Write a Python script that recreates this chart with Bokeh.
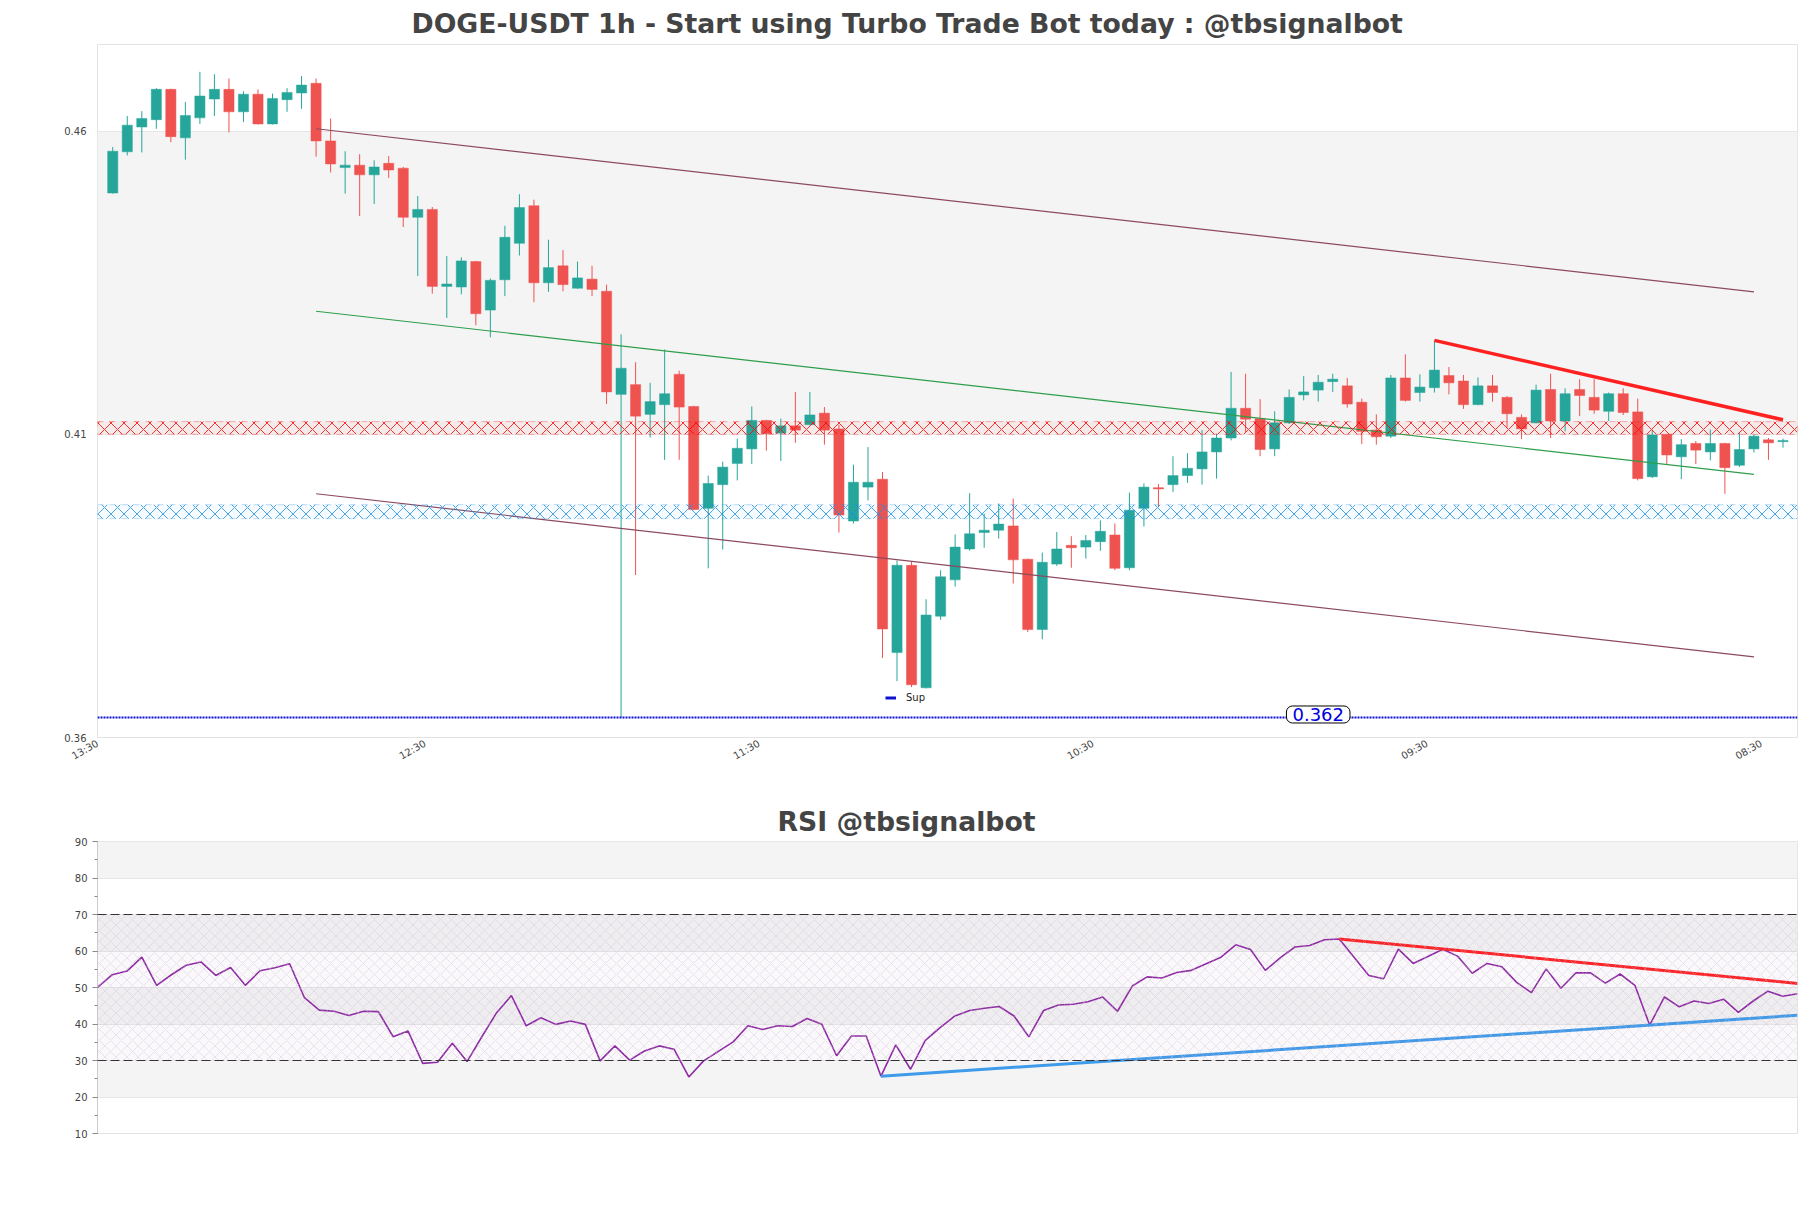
import numpy as np
from bokeh.plotting import figure
from bokeh.layouts import column
from bokeh.models import (ColumnDataSource, Range1d, FixedTicker, SingleIntervalTicker,
                          BoxAnnotation, Span, Label, Legend, LegendItem, LinearAxis)
from bokeh.embed import file_html
from bokeh.resources import INLINE

FONT = "DejaVu Sans"
TITLE = "DOGE-USDT 1h - Start using Turbo Trade Bot today : @tbsignalbot"
RSI_TITLE = "RSI @tbsignalbot"

opens = [0.4498, 0.4566, 0.4607, 0.4619, 0.4669, 0.4589, 0.4622, 0.4653, 0.4669, 0.4632,
         0.4661, 0.4612, 0.4652, 0.4663, 0.4679, 0.4584, 0.4540, 0.4544, 0.4528, 0.4547,
         0.4539, 0.4458, 0.4471, 0.4344, 0.4343, 0.4385, 0.4305, 0.4355, 0.4415, 0.4477,
         0.4350, 0.4378, 0.4341, 0.4356, 0.4336, 0.4166, 0.4182, 0.4133, 0.4149, 0.4199,
         0.4146, 0.3978, 0.4017, 0.4052, 0.4076, 0.4123, 0.4102, 0.4114, 0.4116, 0.4135,
         0.4109, 0.3957, 0.4013, 0.4026, 0.3740, 0.3884, 0.3682, 0.3800, 0.3860, 0.3911,
         0.3938, 0.3942, 0.3949, 0.3894, 0.3778, 0.3886, 0.3917, 0.3914, 0.3923, 0.3934,
         0.3880, 0.3978, 0.4012, 0.4017, 0.4032, 0.4043, 0.4071, 0.4094, 0.4143, 0.4126,
         0.4076, 0.4119, 0.4165, 0.4173, 0.4187, 0.4180, 0.4153, 0.4107, 0.4097, 0.4193,
         0.4169, 0.4177, 0.4197, 0.4188, 0.4149, 0.4180, 0.4161, 0.4128, 0.4119, 0.4174,
         0.4122, 0.4174, 0.4161, 0.4138, 0.4167, 0.4137, 0.4030, 0.4100, 0.4063, 0.4085,
         0.4071, 0.4085, 0.4049, 0.4076, 0.4091, 0.4088]
highs = [0.4574, 0.4625, 0.4633, 0.4671, 0.4670, 0.4648, 0.4698, 0.4694, 0.4687, 0.4666,
         0.4669, 0.4662, 0.4671, 0.4691, 0.4687, 0.4621, 0.4567, 0.4562, 0.4552, 0.4559,
         0.4541, 0.4493, 0.4475, 0.4394, 0.4392, 0.4386, 0.4357, 0.4444, 0.4496, 0.4487,
         0.4421, 0.4404, 0.4385, 0.4378, 0.4347, 0.4265, 0.4219, 0.4185, 0.4240, 0.4205,
         0.4147, 0.4032, 0.4055, 0.4093, 0.4146, 0.4124, 0.4126, 0.4170, 0.4170, 0.4145,
         0.4116, 0.4050, 0.4079, 0.4038, 0.3892, 0.3891, 0.3828, 0.3876, 0.3935, 0.4003,
         0.3969, 0.3986, 0.3994, 0.3895, 0.3905, 0.3939, 0.3932, 0.3934, 0.3958, 0.3953,
         0.4004, 0.4019, 0.4018, 0.4064, 0.4069, 0.4107, 0.4101, 0.4203, 0.4200, 0.4158,
         0.4138, 0.4174, 0.4196, 0.4198, 0.4200, 0.4193, 0.4159, 0.4133, 0.4198, 0.4232,
         0.4199, 0.4255, 0.4211, 0.4198, 0.4194, 0.4198, 0.4163, 0.4133, 0.4182, 0.4200,
         0.4176, 0.4191, 0.4191, 0.4169, 0.4176, 0.4159, 0.4108, 0.4101, 0.4092, 0.4089,
         0.4108, 0.4086, 0.4103, 0.4100, 0.4094, 0.4093]
lows = [0.4497, 0.4560, 0.4565, 0.4604, 0.4582, 0.4553, 0.4612, 0.4625, 0.4598, 0.4615,
        0.4611, 0.4611, 0.4632, 0.4637, 0.4558, 0.4532, 0.4497, 0.4460, 0.4480, 0.4523,
        0.4442, 0.4361, 0.4332, 0.4292, 0.4331, 0.4280, 0.4260, 0.4328, 0.4395, 0.4318,
        0.4335, 0.4336, 0.4340, 0.4328, 0.4150, 0.3633, 0.3868, 0.4095, 0.4058, 0.4058,
        0.3975, 0.3879, 0.3910, 0.4024, 0.4051, 0.4073, 0.4056, 0.4086, 0.4115, 0.4083,
        0.3938, 0.3953, 0.3991, 0.3731, 0.3693, 0.3683, 0.3681, 0.3794, 0.3849, 0.3908,
        0.3913, 0.3928, 0.3854, 0.3774, 0.3762, 0.3883, 0.3880, 0.3895, 0.3908, 0.3876,
        0.3876, 0.3948, 0.3980, 0.4005, 0.4020, 0.4017, 0.4027, 0.4090, 0.4104, 0.4064,
        0.4064, 0.4117, 0.4156, 0.4154, 0.4170, 0.4144, 0.4084, 0.4083, 0.4094, 0.4154,
        0.4154, 0.4169, 0.4166, 0.4142, 0.4148, 0.4154, 0.4111, 0.4092, 0.4118, 0.4094,
        0.4105, 0.4130, 0.4134, 0.4122, 0.4132, 0.4024, 0.4028, 0.4050, 0.4026, 0.4051,
        0.4057, 0.4002, 0.4046, 0.4070, 0.4058, 0.4078]
closes = [0.4567, 0.4610, 0.4621, 0.4669, 0.4591, 0.4626, 0.4658, 0.4669, 0.4632, 0.4661,
          0.4612, 0.4654, 0.4664, 0.4676, 0.4584, 0.4546, 0.4544, 0.4528, 0.4541, 0.4536,
          0.4458, 0.4471, 0.4344, 0.4348, 0.4386, 0.4299, 0.4354, 0.4425, 0.4474, 0.4350,
          0.4375, 0.4347, 0.4358, 0.4339, 0.4170, 0.4209, 0.4130, 0.4154, 0.4167, 0.4145,
          0.3976, 0.4019, 0.4046, 0.4077, 0.4123, 0.4101, 0.4114, 0.4107, 0.4132, 0.4107,
          0.3967, 0.4021, 0.4021, 0.3779, 0.3884, 0.3687, 0.3802, 0.3865, 0.3914, 0.3936,
          0.3942, 0.3952, 0.3893, 0.3778, 0.3889, 0.3911, 0.3913, 0.3925, 0.3940, 0.3879,
          0.3975, 0.4013, 0.4010, 0.4032, 0.4044, 0.4071, 0.4094, 0.4143, 0.4125, 0.4075,
          0.4119, 0.4161, 0.4170, 0.4186, 0.4191, 0.4150, 0.4105, 0.4096, 0.4193, 0.4156,
          0.4178, 0.4206, 0.4185, 0.4149, 0.4180, 0.4169, 0.4134, 0.4109, 0.4173, 0.4122,
          0.4167, 0.4164, 0.4140, 0.4167, 0.4136, 0.4027, 0.4099, 0.4066, 0.4083, 0.4074,
          0.4085, 0.4045, 0.4075, 0.4097, 0.4086, 0.4090]

rsi = [50.0, 53.5, 54.5, 58.3, 50.6, 53.5, 56.1, 57.0, 53.3, 55.5,
       50.6, 54.6, 55.4, 56.5, 47.2, 43.8, 43.5, 42.3, 43.5, 43.4,
       36.5, 38.1, 29.2, 29.5, 34.7, 29.7, 36.5, 43.1, 47.8, 39.5,
       41.7, 39.9, 40.8, 39.9, 29.9, 34.0, 30.1, 32.6, 34.0, 33.1,
       25.5, 29.9, 32.5, 35.1, 39.5, 38.5, 39.5, 39.3, 41.5, 39.9,
       31.3, 36.7, 36.7, 25.7, 34.3, 27.6, 35.5, 39.0, 42.2, 43.7,
       44.3, 44.8, 42.2, 36.5, 43.7, 45.2, 45.4, 46.1, 47.4, 43.5,
       50.4, 52.9, 52.6, 54.1, 54.7, 56.5, 58.3, 61.7, 60.4, 54.7,
       58.1, 61.1, 61.5, 63.1, 63.3, 58.3, 53.3, 52.4, 60.5, 56.6,
       58.5, 60.5, 58.6, 53.9, 56.6, 55.7, 51.4, 48.6, 55.1, 49.8,
       54.0, 54.0, 51.2, 53.7, 50.6, 39.7, 47.4, 44.7, 46.3, 45.6,
       46.8, 43.2, 46.3, 49.0, 47.6, 48.3]

tick_pos = [-1, 22, 45, 68, 91, 114]
tick_labels = ["13:30", "12:30", "11:30", "10:30", "09:30", "08:30"]
price_ticks = [0.36, 0.41, 0.46]

channel_x = [14, 113]
channel_upper = [0.4604, 0.4335]
channel_mid = [0.4303, 0.4034]
channel_lower = [0.4002, 0.3733]
trend_x = [91, 115]
trend_y = [0.4255, 0.4124]
resistance_zone = [0.4100, 0.4121]
support_zone = [0.3961, 0.3984]
support_level = 0.3633
support_text = "0.362"
support_label_x = 83

rsi_red_x = [84, 115]
rsi_red_y = [63.3, 51.1]
rsi_blue_x = [53, 115]
rsi_blue_y = [25.7, 42.4]
rsi_levels = [30, 70]

INC = "#26a69a"
DEC = "#ef5350"

X_START, X_END = -1.05, 116.0
LABEL_SHIFT = 0.5  # tick labels sit half a candle before their bar in the original

idx = list(range(len(opens)))
colors = [INC if c >= o else DEC for o, c in zip(opens, closes)]
src = ColumnDataSource(dict(x=idx, open=opens, high=highs, low=lows, close=closes,
                            top=[max(o, c) for o, c in zip(opens, closes)],
                            bottom=[min(o, c) for o, c in zip(opens, closes)],
                            color=colors))

p1 = figure(width=1805, height=798, x_range=Range1d(X_START, X_END),
            y_range=Range1d(0.36, 0.4743), output_backend="svg", toolbar_location=None,
            x_axis_location=None,
            min_border_left=97, min_border_right=8, min_border_top=43, min_border_bottom=61,
            title=TITLE)
p1.title.text_font = FONT
p1.title.text_font_size = "26.7px"
p1.title.text_font_style = "bold"
p1.title.text_color = "#444444"
p1.title.align = "left"
p1.title.offset = 314
p1.title.standoff = 10.5
p1.outline_line_color = "#e3e3e3"
p1.background_fill_color = "white"

pt = FixedTicker(ticks=price_ticks)
p1.yaxis.ticker = pt
p1.ygrid.ticker = pt
p1.ygrid.grid_line_color = "#e6e6e6"
p1.ygrid.band_fill_color = "#f4f4f4"
p1.ygrid.band_fill_alpha = 1.0
p1.xgrid.grid_line_color = None
yax = p1.yaxis[0]
yax.axis_line_color = None
yax.major_tick_line_color = None
yax.minor_tick_line_color = None
yax.major_label_text_font = FONT
yax.major_label_text_font_size = "10px"
yax.major_label_text_color = "#444444"

# time axis
lab_start = X_START + LABEL_SHIFT
p1.extra_x_ranges = {"time": Range1d(lab_start, X_END + LABEL_SHIFT)}
lab_ticks = [max(t, lab_start) for t in tick_pos]
xax = LinearAxis(x_range_name="time", ticker=FixedTicker(ticks=lab_ticks),
                 major_label_overrides={t: l for t, l in zip(lab_ticks, tick_labels)},
                 major_label_orientation=0.52, axis_line_color=None,
                 major_tick_line_color=None, minor_tick_line_color=None,
                 major_tick_out=0, major_tick_in=0, major_label_standoff=5,
                 major_label_text_font=FONT, major_label_text_font_size="10px",
                 major_label_text_color="#444444")
p1.add_layout(xax, "below")

p1.segment(x0="x", y0="high", x1="x", y1="low", color="color", line_width=1, source=src)
p1.vbar(x="x", width=0.7, top="top", bottom="bottom", fill_color="color",
        line_color="color", line_width=0.5, source=src)

p1.line(channel_x, channel_upper, line_color="#8c4a5e", line_width=1.2)
p1.line(channel_x, channel_lower, line_color="#8c4a5e", line_width=1.2)
p1.line(channel_x, channel_mid, line_color="#2e9e4a", line_width=1.2)
p1.line(trend_x, trend_y, line_color="#ff2020", line_width=3.5)

p1.add_layout(BoxAnnotation(bottom=resistance_zone[0], top=resistance_zone[1],
                            fill_color="red", fill_alpha=0.04,
                            hatch_pattern="diagonal_cross", hatch_color="red",
                            hatch_alpha=0.8, hatch_scale=13, hatch_weight=1,
                            line_color="red", line_dash="dashed", line_width=1))
p1.add_layout(BoxAnnotation(bottom=support_zone[0], top=support_zone[1],
                            fill_color="#1e90ff", fill_alpha=0.04,
                            hatch_pattern="diagonal_cross", hatch_color="#1e8fe0",
                            hatch_alpha=0.8, hatch_scale=13, hatch_weight=1,
                            line_color="#1e8fe0", line_dash="dashed", line_width=1))

p1.add_layout(Span(location=support_level, dimension="width", line_color="#1010d0",
                   line_width=2, line_dash="2 1"))
sup_r = p1.line([support_label_x], [support_level], line_color="#1010d0", line_width=3)
legend = Legend(items=[LegendItem(label="Sup", renderers=[sup_r])], location=(778, 24),
                glyph_width=11, glyph_height=11, label_height=11, label_standoff=10,
                label_text_font=FONT, label_text_font_size="10px", label_text_color="#222222",
                background_fill_alpha=0, border_line_alpha=0, padding=10)
p1.add_layout(legend)
p1.add_layout(Label(x=support_label_x, y=support_level, y_offset=3, text=support_text,
                    text_font=FONT, text_font_size="18px", text_color="#0000dd",
                    text_align="center", text_baseline="middle",
                    background_fill_color="white", border_line_color="black",
                    border_line_width=1, border_radius=6, padding=(6, 2)))

# RSI figure
p2 = figure(width=1805, height=360, x_range=Range1d(0, len(rsi) - 1), y_range=Range1d(10, 90),
            output_backend="svg", toolbar_location=None,
            min_border_left=97, min_border_right=8, min_border_top=42, min_border_bottom=25,
            title=RSI_TITLE)
p2.title.text_font = FONT
p2.title.text_font_size = "26.7px"
p2.title.text_font_style = "bold"
p2.title.text_color = "#444444"
p2.title.align = "left"
p2.title.offset = 680
p2.title.standoff = 9.5
p2.outline_line_color = "#e3e3e3"
p2.xaxis.visible = False
p2.xgrid.grid_line_color = None
rt = SingleIntervalTicker(interval=10, num_minor_ticks=2)
p2.yaxis.ticker = rt
p2.ygrid.ticker = rt
p2.ygrid.grid_line_color = "#e6e6e6"
p2.ygrid.band_fill_color = "#f4f4f4"
p2.ygrid.band_fill_alpha = 1.0
ya = p2.yaxis[0]
ya.axis_line_color = "#cccccc"
ya.major_tick_line_color = "#888888"
ya.minor_tick_line_color = "#888888"
ya.major_tick_out = 5
ya.major_tick_in = 0
ya.minor_tick_out = 3
ya.minor_tick_in = 0
ya.major_label_text_font = FONT
ya.major_label_text_font_size = "10px"
ya.major_label_text_color = "#444444"

p2.add_layout(BoxAnnotation(bottom=rsi_levels[0], top=rsi_levels[1], fill_color="#b07cc6",
                            fill_alpha=0.05, hatch_pattern="diagonal_cross",
                            hatch_color="#c8c0cc", hatch_alpha=0.6, hatch_scale=11,
                            hatch_weight=0.6, line_alpha=0))
for lv in rsi_levels:
    p2.add_layout(Span(location=lv, dimension="width", line_color="#333333",
                       line_width=1, line_dash="9 4"))
p2.line(list(range(len(rsi))), rsi, line_color="#8e2aa3", line_width=1.6)
p2.line(rsi_red_x, rsi_red_y, line_color="#ff2020", line_width=3)
p2.line(rsi_blue_x, rsi_blue_y, line_color="#3d9be9", line_width=3)

layout = column(p1, p2)
open("out.html", "w").write(file_html(layout, INLINE))
